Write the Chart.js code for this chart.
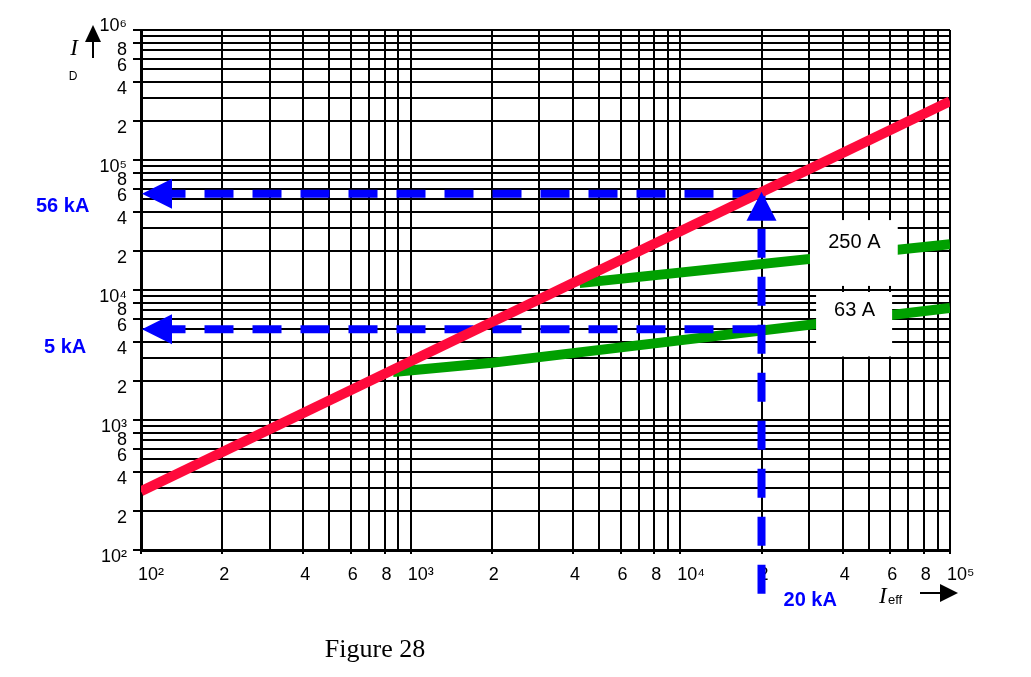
<!DOCTYPE html>
<html><head><meta charset="utf-8">
<script src="https://cdn.jsdelivr.net/npm/chart.js@4.4.1/dist/chart.umd.min.js"></script>
<style>html,body{margin:0;padding:0;background:#fff;}canvas{display:block;}</style>
</head><body>
<canvas id="c" width="1031" height="677"></canvas>
<script>
// ---- data ----
const redX = [100, 100000];
const redY = [283, 283000];
const green63X = [860, 1960, 100000];
const green63Y = [2340, 2740, 7270];
const green250X = [4230, 100000];
const green250Y = [11300, 22500];
const blue56X = [20000, 100];
const blue56Y = [55000, 55000];
const blue5X = [20000, 100];
const blue5Y = [5000, 5000];
const blueVertX = [20000, 20000];
const blueVertY = [46, 55000];
const seriesNames = ['63 A', '250 A'];
const markerTexts = ['56 kA', '5 kA', '20 kA'];
const figureTitle = 'Figure 28';

// ---- ticks ----
const xDecades = [100, 1000, 10000, 100000];
const yDecades = [100, 1000, 10000, 100000, 1000000];
const xDecadeLabels = ['10²', '10³', '10⁴', '10⁵'];
const yDecadeLabels = ['10²', '10³', '10⁴', '10⁵', ['10⁶', '']];
const mantissas = [1, 2, 3, 4, 5, 6, 7, 8, 9];
const labeledMantissas = [2, 4, 6, 8];

function buildTicks(decades, labels) {
  const out = [];
  decades.forEach((d, i) => {
    if (i === decades.length - 1) { out.push({ value: d, label: labels[i] }); return; }
    mantissas.forEach(m => {
      out.push({ value: d * m, label: m === 1 ? labels[i] : (labeledMantissas.includes(m) ? String(m) : '') });
    });
  });
  return out;
}
const xTicks = buildTicks(xDecades, xDecadeLabels);
const yTicks = buildTicks(yDecades, yDecadeLabels);

const pts = (xs, ys) => xs.map((x, i) => ({ x: x, y: ys[i] }));
const RED = '#ff0a3c', GREEN = '#00a000', BLUE = '#0000ff';

const overlay = {
  id: 'overlay',
  afterDatasetsDraw(chart) {
    const c = chart.ctx, xs = chart.scales.x, ys = chart.scales.y;
    const px = v => xs.getPixelForValue(v), py = v => ys.getPixelForValue(v);
    c.save();
    // label boxes
    const boxes = [
      { x0: 30000, x1: 64000, y0: 34500, y1: 10750, text: seriesNames[1], dy: 22 },
      { x0: 31600, x1: 61000, y0: 9660, y1: 3080, text: seriesNames[0], dy: 19 }
    ];
    c.font = '20px "Liberation Sans", Arial, sans-serif';
    c.textAlign = 'center'; c.textBaseline = 'middle';
    boxes.forEach(b => {
      const l = px(b.x0), r = px(b.x1), t = py(b.y0), bo = py(b.y1);
      c.fillStyle = '#fff';
      c.fillRect(l + 1, t, r - l - 1, bo - t);
      c.fillStyle = '#000';
      c.fillText(b.text, (l + r) / 2 + 1, t + b.dy);
    });
    // arrow heads
    c.fillStyle = BLUE;
    const leftArrow = (x, y) => { c.beginPath(); c.moveTo(x + 1, y); c.lineTo(x + 31, y - 15); c.lineTo(x + 31, y + 15); c.closePath(); c.fill(); };
    leftArrow(px(blue56X[1]), py(blue56Y[1]));
    leftArrow(px(blue5X[1]), py(blue5Y[1]));
    const ux = px(blueVertX[1]), uy = py(blueVertY[1]);
    c.beginPath(); c.moveTo(ux, uy - 2); c.lineTo(ux - 15, uy + 27); c.lineTo(ux + 15, uy + 27); c.closePath(); c.fill();
    // blue annotations
    c.font = 'bold 20px "Liberation Sans", Arial, sans-serif';
    c.textAlign = 'left'; c.textBaseline = 'middle';
    c.fillText(markerTexts[0], 36, py(blue56Y[0]) + 13);
    c.fillText(markerTexts[1], 44, py(blue5Y[0]) + 18);
    c.fillText(markerTexts[2], px(blueVertX[0]) + 22, 600);
    // axis titles
    c.fillStyle = '#000';
    c.font = 'italic 23px "Liberation Serif", "Times New Roman", serif';
    c.textAlign = 'center'; c.textBaseline = 'alphabetic';
    c.fillText('I', 74, 55);
    c.font = '12px "Liberation Sans", Arial, sans-serif';
    c.fillText('D', 73, 80);
    c.strokeStyle = '#000'; c.lineWidth = 2;
    c.beginPath(); c.moveTo(93, 58); c.lineTo(93, 40); c.stroke();
    c.beginPath(); c.moveTo(93, 25); c.lineTo(85, 42); c.lineTo(101, 42); c.closePath(); c.fill();
    c.textAlign = 'left';
    c.font = 'italic 23px "Liberation Serif", "Times New Roman", serif';
    c.fillText('I', 879, 603);
    c.font = '13px "Liberation Sans", Arial, sans-serif';
    c.fillText('eff', 888, 604);
    c.beginPath(); c.moveTo(920, 593); c.lineTo(942, 593); c.stroke();
    c.beginPath(); c.moveTo(958, 593); c.lineTo(940, 584); c.lineTo(940, 602); c.closePath(); c.fill();
    // caption
    c.font = '26px "Liberation Serif", "Times New Roman", serif';
    c.textAlign = 'center';
    c.fillText(figureTitle, 375, 657);
    c.restore();
  }
};

new Chart(document.getElementById('c'), {
  type: 'line',
  data: {
    datasets: [
      { data: pts(redX, redY), borderColor: RED, borderWidth: 10, order: 0, clip: 0 },
      { data: pts(blue56X, blue56Y), borderColor: BLUE, borderWidth: 8, borderDash: [29, 19], order: 1, clip: 0 },
      { data: pts(blue5X, blue5Y), borderColor: BLUE, borderWidth: 8, borderDash: [29, 19], order: 1, clip: 0 },
      { data: pts(blueVertX, blueVertY), borderColor: BLUE, borderWidth: 8, borderDash: [29, 19], order: 1, clip: false },
      { data: pts(green63X, green63Y), borderColor: GREEN, borderWidth: 10, order: 2, clip: 0 },
      { data: pts(green250X, green250Y), borderColor: GREEN, borderWidth: 10, order: 2, clip: 0 }
    ]
  },
  options: {
    responsive: false, animation: false, devicePixelRatio: 1,
    layout: { padding: { left: 0, right: 81, top: 30, bottom: 0 } },
    elements: { point: { radius: 0, hoverRadius: 0 }, line: { tension: 0, fill: false, borderCapStyle: 'butt' } },
    plugins: { legend: { display: false }, tooltip: { enabled: false } },
    scales: {
      x: {
        type: 'logarithmic', min: 100, max: 100000,
        afterBuildTicks: s => { s.ticks = xTicks.map(t => ({ value: t.value })); },
        afterFit: s => { s.height = 127; },
        grid: { color: '#000', lineWidth: 2, tickLength: 4,
          tickColor: ctx => (xTicks[ctx.index] && xTicks[ctx.index].label !== '') ? '#000' : 'rgba(0,0,0,0)' },
        border: { color: '#000', width: 3 },
        ticks: { autoSkip: false, maxRotation: 0, align: 'start', labelOffset: -3, padding: 10, color: '#000',
          font: { family: '"Liberation Sans", Arial, sans-serif', size: 18 },
          callback: (v, i) => xTicks[i] ? xTicks[i].label : '' }
      },
      y: {
        type: 'logarithmic', min: 100, max: 1000000,
        afterBuildTicks: s => { s.ticks = yTicks.map(t => ({ value: t.value })); },
        afterFit: s => { s.width = 141; },
        grid: { color: '#000', lineWidth: 2, tickLength: 8,
          tickColor: ctx => (yTicks[ctx.index] && yTicks[ctx.index].label !== '') ? '#000' : 'rgba(0,0,0,0)' },
        border: { color: '#000', width: 3 },
        ticks: { autoSkip: false, labelOffset: 7, padding: 6, color: '#000',
          font: { family: '"Liberation Sans", Arial, sans-serif', size: 18 },
          callback: (v, i) => yTicks[i] ? yTicks[i].label : '' }
      }
    }
  },
  plugins: [overlay]
});
</script>
</body></html>
